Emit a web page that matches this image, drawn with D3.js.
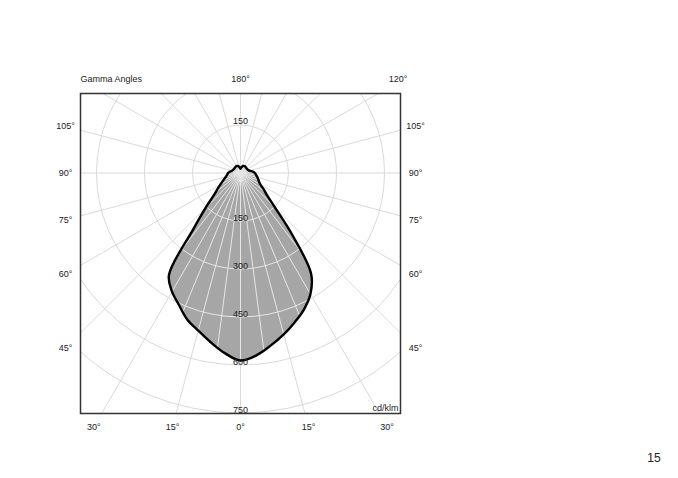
<!DOCTYPE html>
<html>
<head>
<meta charset="utf-8">
<script src="https://cdn.jsdelivr.net/npm/d3@7"></script>
<style>
  html, body { margin: 0; padding: 0; background: #fff; }
  svg { display: block; }
  text { font-family: "Liberation Sans", Arial, sans-serif; fill: #222; }
</style>
</head>
<body>
<svg id="chart" width="678" height="478"></svg>
<script>
// ---- data ----
const gammaAngles = d3.range(0, 181, 5);
// C0 plane (right half), cd/klm
const intensityC0 = [586, 572, 547, 522, 496, 470, 437, 385, 250, 152, 108, 88, 72, 64, 59, 55, 51, 48, 45,
                     40, 34, 29, 26, 25, 24, 24, 24, 24, 24.5, 25, 25, 24.5, 23.5, 21, 18, 15, 13];
// C180 plane (left half), cd/klm
const intensityC180 = [586, 565, 537, 510, 487, 455, 428, 390, 230, 155, 110, 88, 73, 62, 54, 48, 44, 41, 39,
                       35, 31, 28, 26, 25, 24, 24, 24, 24, 24.5, 25, 25, 24.5, 23.5, 21, 18, 15, 13];
const radialTicks = [150, 300, 450, 600, 750];
const topRadialTicks = [150];
const sideAngleTicks = [105, 90, 75, 60, 45];
const bottomAngleTicks = [-30, -15, 0, 15, 30];
const topAngleTicks = [180, 120];
const titleText = "Gamma Angles";
const unitText = "cd/klm";
const pageNumber = "15";

// ---- layout ----
const svg = d3.select("#chart");
const frame = { x0: 80.5, y0: 93.5, x1: 400.5, y1: 413.5 };
const cx = 240.5, cy = 173;
const r = d3.scaleLinear().domain([0, 750]).range([0, 240]);
const rad = d => d * Math.PI / 180;
// gamma measured from downward vertical; side = +1 right, -1 left
const pt = (g, v, side) => [cx + side * r(v) * Math.sin(rad(g)), cy + r(v) * Math.cos(rad(g))];

const defs = svg.append("defs");
defs.append("clipPath").attr("id", "frameClip")
  .append("rect").attr("x", frame.x0).attr("y", frame.y0)
  .attr("width", frame.x1 - frame.x0).attr("height", frame.y1 - frame.y0);

// outline points
const pts = [];
gammaAngles.forEach((g, i) => pts.push(pt(g, intensityC0[i], 1)));
for (let i = gammaAngles.length - 2; i >= 1; i--) pts.push(pt(gammaAngles[i], intensityC180[i], -1));
const outline = d3.line().curve(d3.curveCatmullRomClosed.alpha(0.5));
const outlinePath = outline(pts);

defs.append("clipPath").attr("id", "fillClip").append("path").attr("d", outlinePath);

function drawGrid(g, color, spokeStep) {
  g.selectAll("circle.ring").data(d3.range(150, 1051, 150)).join("circle")
    .attr("cx", cx).attr("cy", cy).attr("r", d => r(d))
    .attr("fill", "none").attr("stroke", color).attr("stroke-width", 1);
  g.selectAll("line.spoke").data(d3.range(0, 360, spokeStep)).join("line")
    .attr("x1", cx).attr("y1", cy)
    .attr("x2", d => cx + 600 * Math.sin(rad(d)))
    .attr("y2", d => cy + 600 * Math.cos(rad(d)))
    .attr("stroke", color).attr("stroke-width", 1);
}

// main grid
const grid = svg.append("g").attr("clip-path", "url(#frameClip)");
drawGrid(grid, "#d9d9d9", 15);

// fill
svg.append("path").attr("d", outlinePath).attr("fill", "#a6a6a6").attr("stroke", "none");

// inner grid inside the fill
const innerGrid = svg.append("g").attr("clip-path", "url(#fillClip)");
drawGrid(innerGrid, "#e6e6e6", 7.5);

// outline
svg.append("path").attr("d", outlinePath).attr("fill", "none")
  .attr("stroke", "#000").attr("stroke-width", 2.4).attr("stroke-linejoin", "round");

// frame
svg.append("rect").attr("x", frame.x0).attr("y", frame.y0)
  .attr("width", frame.x1 - frame.x0).attr("height", frame.y1 - frame.y0)
  .attr("fill", "none").attr("stroke", "#333").attr("stroke-width", 1.5);

// radial tick labels
svg.selectAll("text.rt").data(radialTicks).join("text")
  .attr("x", cx).attr("y", d => cy + r(d) - 0.5)
  .attr("text-anchor", "middle").attr("font-size", 9).text(d => d);
svg.selectAll("text.rtt").data(topRadialTicks).join("text")
  .attr("x", cx).attr("y", d => cy - r(d) - 1)
  .attr("text-anchor", "middle").attr("font-size", 9).text(d => d);

// side angle labels
const sideDist = 175;
[1, -1].forEach(side => {
  svg.append("g").selectAll("text").data(sideAngleTicks).join("text")
    .attr("x", cx + side * sideDist)
    .attr("y", d => cy + sideDist * Math.cos(rad(d)) / Math.sin(rad(d)))
    .attr("dy", "0.35em").attr("text-anchor", "middle").attr("font-size", 9)
    .text(d => d + "°");
});

// bottom angle labels
const bottomY = 427;
svg.selectAll("text.bt").data(bottomAngleTicks).join("text")
  .attr("x", d => cx + (bottomY - cy) * Math.tan(rad(d)))
  .attr("y", bottomY).attr("dy", "0.35em")
  .attr("text-anchor", "middle").attr("font-size", 9)
  .text(d => Math.abs(d) + "°");

// top angle labels
const topY = 79;
svg.selectAll("text.tt").data(topAngleTicks).join("text")
  .attr("x", d => Math.min(frame.x1 - 2.5, cx + (cy - topY) * Math.tan(rad(180 - d))))
  .attr("y", topY).attr("dy", "0.35em")
  .attr("text-anchor", "middle").attr("font-size", 9)
  .text(d => d + "°");

svg.append("text").attr("x", frame.x0).attr("y", topY).attr("dy", "0.35em")
  .attr("font-size", 9).text(titleText);

svg.append("text").attr("x", frame.x1 - 2).attr("y", 410.5)
  .attr("text-anchor", "end").attr("font-size", 9).text(unitText);

svg.append("text").attr("x", 654).attr("y", 461.5)
  .attr("text-anchor", "middle").attr("font-size", 12).text(pageNumber);
</script>
</body>
</html>
